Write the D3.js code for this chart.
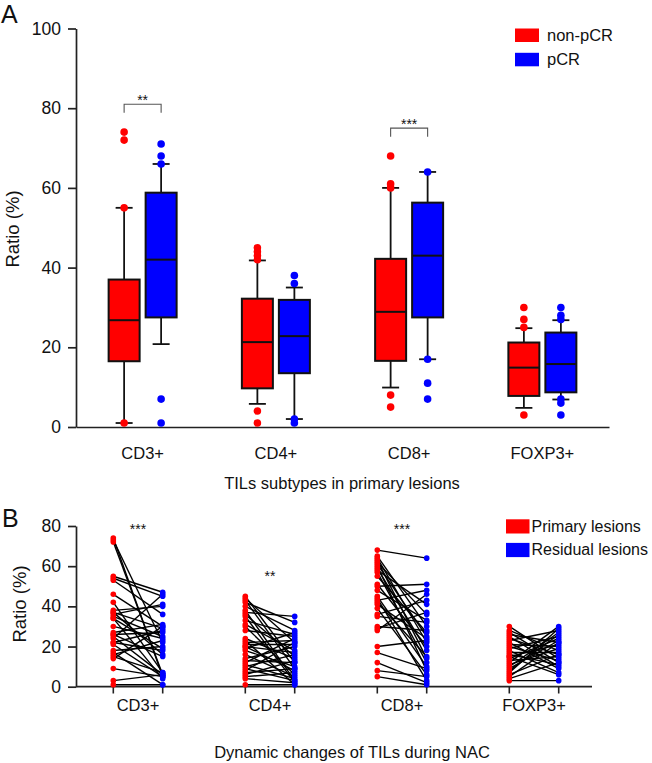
<!DOCTYPE html>
<html><head><meta charset="utf-8">
<script src="https://cdn.jsdelivr.net/npm/d3@7"></script>
<style>
body{margin:0;background:#fff}
svg{display:block}
text{font-family:"Liberation Sans",Arial,Helvetica,sans-serif;fill:#111}
</style>
</head><body><svg id="chart" width="652" height="763"></svg>
<script>
// ---------- DATA ----------
const categories = ["CD3+", "CD4+", "CD8+", "FOXP3+"];
const groupsA = ["non-pCR", "pCR"];
const groupsB = ["Primary lesions", "Residual lesions"];
const colors = ["#ff0000", "#0000ff"];
const yTicksA = [0, 20, 40, 60, 80, 100];
const yTicksB = [0, 20, 40, 60, 80];

// [lower whisker, Q1, median, Q3, upper whisker]
const nonPcrBox = [[1, 16.5, 26.8, 37, 55], [5.8, 9.7, 21.3, 32.2, 41.8], [9.9, 16.6, 28.9, 42.2, 60], [4.8, 7.8, 14.9, 21.2, 24.8]];
const pcrBox = [[20.8, 27.5, 42, 58.8, 66], [2, 13.5, 22.8, 31.9, 35], [17, 27.5, 43, 56.3, 64], [6.9, 8.7, 15.8, 23.7, 26.8]];
const nonPcrPoints = [[74, 72, 55, 1], [45, 44, 43, 42, 4, 1], [68, 61, 60, 8, 5], [30, 27, 25, 3]];
const pcrPoints = [[71, 68, 66, 7, 1], [38, 36, 2, 1], [64, 17, 11, 7], [30, 28, 27, 7, 6, 3]];
const sigLabelsA = ["**", "", "***", ""];
const sigLevelA = [81, null, 75, null];

// Panel B paired values (primary -> residual, paired by index)
const primaryCD3 = [74,73,72,55,54,53,46,42,38,37,37,36,35,34,34,30,27,26,26,25,24,22,22,21,18,17,16,15,14,9,3,1];
const residualCD3 = [5,22,6,47,45,36,30,7,40,16,29,41,25,19,4,24,31,15,27,6,46,18,28,5,20,1,23,7,30,5,6,1];
const primaryCD4 = [45,44,43,42,40,38,37,36,35,33,31,30,28,24,23,22,21,20,20,19,18,16,14,13,12,11,10,9,8,7,6,5,4,1];
const residualCD4 = [12,22,9,32,28,3,35,15,2,26,18,6,25,14,1,23,21,8,17,27,10,5,20,12,24,4,16,3,22,9,13,7,2,1];
const primaryCD8 = [68,65,64,63,62,61,60,59,58,57,55,51,50,48,45,44,43,42,41,39,36,35,30,29,28,20,17,12,8,5];
const residualCD8 = [64,30,22,14,36,25,8,18,41,12,27,20,51,33,10,3,48,15,24,6,43,32,28,37,46,23,9,2,5,1];
const primaryFOXP3 = [30,28,27,26,25,24,23,22,21,20,19,18,17,16,15,15,14,13,12,11,10,9,8,7,6,5,4,3];
const residualFOXP3 = [14,18,12,22,10,16,28,9,20,13,25,7,17,11,21,6,24,15,30,19,27,23,26,29,16,22,12,3];
const sigLabelsB = ["***", "**", "***", ""];
const sigLevelB = [76, 52.6, 76, null];

// ---------- DRAW ----------
const svg = d3.select("#chart");
const FONT = '"Liberation Sans",Arial,Helvetica,sans-serif';

// ===== Panel A =====
const yA = d3.scaleLinear().domain([0, 100]).range([427, 28.5]);
const x0A = d3.scaleBand().domain(categories).range([76, 609]);
const x1A = d3.scaleBand().domain(groupsA).range([x0A.bandwidth() / 2 - 37, x0A.bandwidth() / 2 + 37]);
const boxW = 31, capW = 17;

const gA = svg.append("g");
const axA = gA.append("g").attr("transform", "translate(76,0)")
  .call(d3.axisLeft(yA).tickValues(yTicksA).tickSize(8).tickSizeOuter(0).tickPadding(7));
axA.select(".domain").attr("stroke", "#222").attr("stroke-width", 1.7);
axA.selectAll(".tick line").attr("stroke", "#222").attr("stroke-width", 1.7);
axA.selectAll("text").style("font-family", FONT).style("font-size", "17.5px").attr("fill", "#111");

const axXA = gA.append("g").attr("transform", "translate(0,427)")
  .call(d3.axisBottom(x0A).tickSize(0).tickPadding(20));
axXA.select(".domain").attr("stroke", "#222").attr("stroke-width", 1.7);
axXA.selectAll("text").style("font-family", FONT).style("font-size", "16.5px").attr("fill", "#111");

gA.append("text").attr("x", 342).attr("y", 489).attr("text-anchor", "middle")
  .style("font-size", "16.5px").text("TILs subtypes in primary lesions");
gA.append("text").attr("transform", "translate(19,229) rotate(-90)").attr("text-anchor", "middle")
  .style("font-size", "18.5px").text("Ratio (%)");
gA.append("text").attr("x", 1).attr("y", 23).style("font-size", "25px").text("A");

const boxSets = [nonPcrBox, pcrBox];
const pointSets = [nonPcrPoints, pcrPoints];
categories.forEach((cat, i) => {
  groupsA.forEach((grp, k) => {
    const cx = x0A(cat) + x1A(grp) + x1A.bandwidth() / 2;
    const [lo, q1, med, q3, hi] = boxSets[k][i];
    const g = gA.append("g");
    g.append("line").attr("x1", cx).attr("x2", cx).attr("y1", yA(lo)).attr("y2", yA(hi))
      .attr("stroke", "#111").attr("stroke-width", 1.8);
    [lo, hi].forEach(v => g.append("line").attr("x1", cx - capW / 2).attr("x2", cx + capW / 2)
      .attr("y1", yA(v)).attr("y2", yA(v)).attr("stroke", "#111").attr("stroke-width", 1.8));
    g.append("rect").attr("x", cx - boxW / 2).attr("width", boxW)
      .attr("y", yA(q3)).attr("height", yA(q1) - yA(q3))
      .attr("fill", colors[k]).attr("stroke", "#111").attr("stroke-width", 2);
    g.append("line").attr("x1", cx - boxW / 2).attr("x2", cx + boxW / 2)
      .attr("y1", yA(med)).attr("y2", yA(med)).attr("stroke", "#111").attr("stroke-width", 2);
    g.selectAll("circle").data(pointSets[k][i]).join("circle")
      .attr("cx", cx).attr("cy", d => yA(d)).attr("r", 3.8).attr("fill", colors[k]);
  });
  if (sigLevelA[i] != null) {
    const xa = x0A(cat) + x1A(groupsA[0]) + x1A.bandwidth() / 2;
    const xb = x0A(cat) + x1A(groupsA[1]) + x1A.bandwidth() / 2;
    const yt = yA(sigLevelA[i]);
    gA.append("path").attr("d", `M${xa},${yt + 8.5}V${yt}H${xb}V${yt + 8.5}`)
      .attr("fill", "none").attr("stroke", "#555").attr("stroke-width", 1.1);
    gA.append("text").attr("x", (xa + xb) / 2).attr("y", yt + 1).attr("text-anchor", "middle")
      .style("font-size", "14px").attr("fill", "#444").text(sigLabelsA[i]);
  }
});

groupsA.forEach((grp, k) => {
  gA.append("rect").attr("x", 515).attr("y", 28.5 + k * 24.3).attr("width", 24).attr("height", 13.5).attr("fill", colors[k]);
  gA.append("text").attr("x", 547).attr("y", 40.8 + k * 24.3).style("font-size", "16.5px").text(grp);
});

// ===== Panel B =====
const yB = d3.scaleLinear().domain([0, 80]).range([686.7, 526]);
const x0B = d3.scaleBand().domain(categories).range([72, 600]);
const x1B = d3.scalePoint().domain(groupsB).range([x0B.bandwidth() / 2 - 24.7, x0B.bandwidth() / 2 + 24.7]);
const gB = svg.append("g");

const axB = gB.append("g").attr("transform", "translate(76,0)")
  .call(d3.axisLeft(yB).tickValues(yTicksB).tickSize(8).tickSizeOuter(0).tickPadding(7));
axB.select(".domain").attr("stroke", "#222").attr("stroke-width", 1.7);
axB.selectAll(".tick line").attr("stroke", "#222").attr("stroke-width", 1.7);
axB.selectAll("text").style("font-family", FONT).style("font-size", "17.5px").attr("fill", "#111");

const axXB = gB.append("g").attr("transform", "translate(0,686.7)")
  .call(d3.axisBottom(x0B).tickSize(0).tickPadding(13));
axXB.select(".domain").remove();
axXB.selectAll("text").style("font-family", FONT).style("font-size", "16.5px").attr("fill", "#111");
gB.append("line").attr("x1", 76).attr("x2", 592).attr("y1", 686.7).attr("y2", 686.7)
  .attr("stroke", "#222").attr("stroke-width", 1.7);

gB.append("text").attr("x", 352).attr("y", 758).attr("text-anchor", "middle")
  .style("font-size", "16.5px").text("Dynamic changes of TILs during NAC");
gB.append("text").attr("transform", "translate(26,604) rotate(-90)").attr("text-anchor", "middle")
  .style("font-size", "18.5px").text("Ratio (%)");
gB.append("text").attr("x", 2).attr("y", 527).style("font-size", "25px").text("B");

const primaryAll = [primaryCD3, primaryCD4, primaryCD8, primaryFOXP3];
const residualAll = [residualCD3, residualCD4, residualCD8, residualFOXP3];
categories.forEach((cat, i) => {
  const xp = x0B(cat) + x1B(groupsB[0]);
  const xr = x0B(cat) + x1B(groupsB[1]);
  [xp, xr].forEach(x => gB.append("line").attr("x1", x).attr("x2", x).attr("y1", 686.7).attr("y2", 693.5)
    .attr("stroke", "#222").attr("stroke-width", 1.6));
  const pairs = primaryAll[i].map((p, j) => [p, residualAll[i][j]]);
  gB.append("g").selectAll("line").data(pairs).join("line")
    .attr("x1", xp).attr("x2", xr).attr("y1", d => yB(d[0])).attr("y2", d => yB(d[1]))
    .attr("stroke", "#000").attr("stroke-width", 1.4);
  gB.append("g").selectAll("circle").data(primaryAll[i]).join("circle")
    .attr("cx", xp).attr("cy", d => yB(d)).attr("r", 2.8).attr("fill", colors[0]);
  gB.append("g").selectAll("circle").data(residualAll[i]).join("circle")
    .attr("cx", xr).attr("cy", d => yB(d)).attr("r", 2.8).attr("fill", colors[1]);
  if (sigLevelB[i] != null) {
    gB.append("text").attr("x", (xp + xr) / 2).attr("y", yB(sigLevelB[i])).attr("text-anchor", "middle")
      .style("font-size", "14px").attr("fill", "#444").text(sigLabelsB[i]);
  }
});

groupsB.forEach((grp, k) => {
  gB.append("rect").attr("x", 506).attr("y", 519.3 + k * 23.6).attr("width", 23.5).attr("height", 14.2).attr("fill", colors[k]);
  gB.append("text").attr("x", 531.5).attr("y", 531.8 + k * 23.6).style("font-size", "16px").text(grp);
});
</script>
</body></html>
